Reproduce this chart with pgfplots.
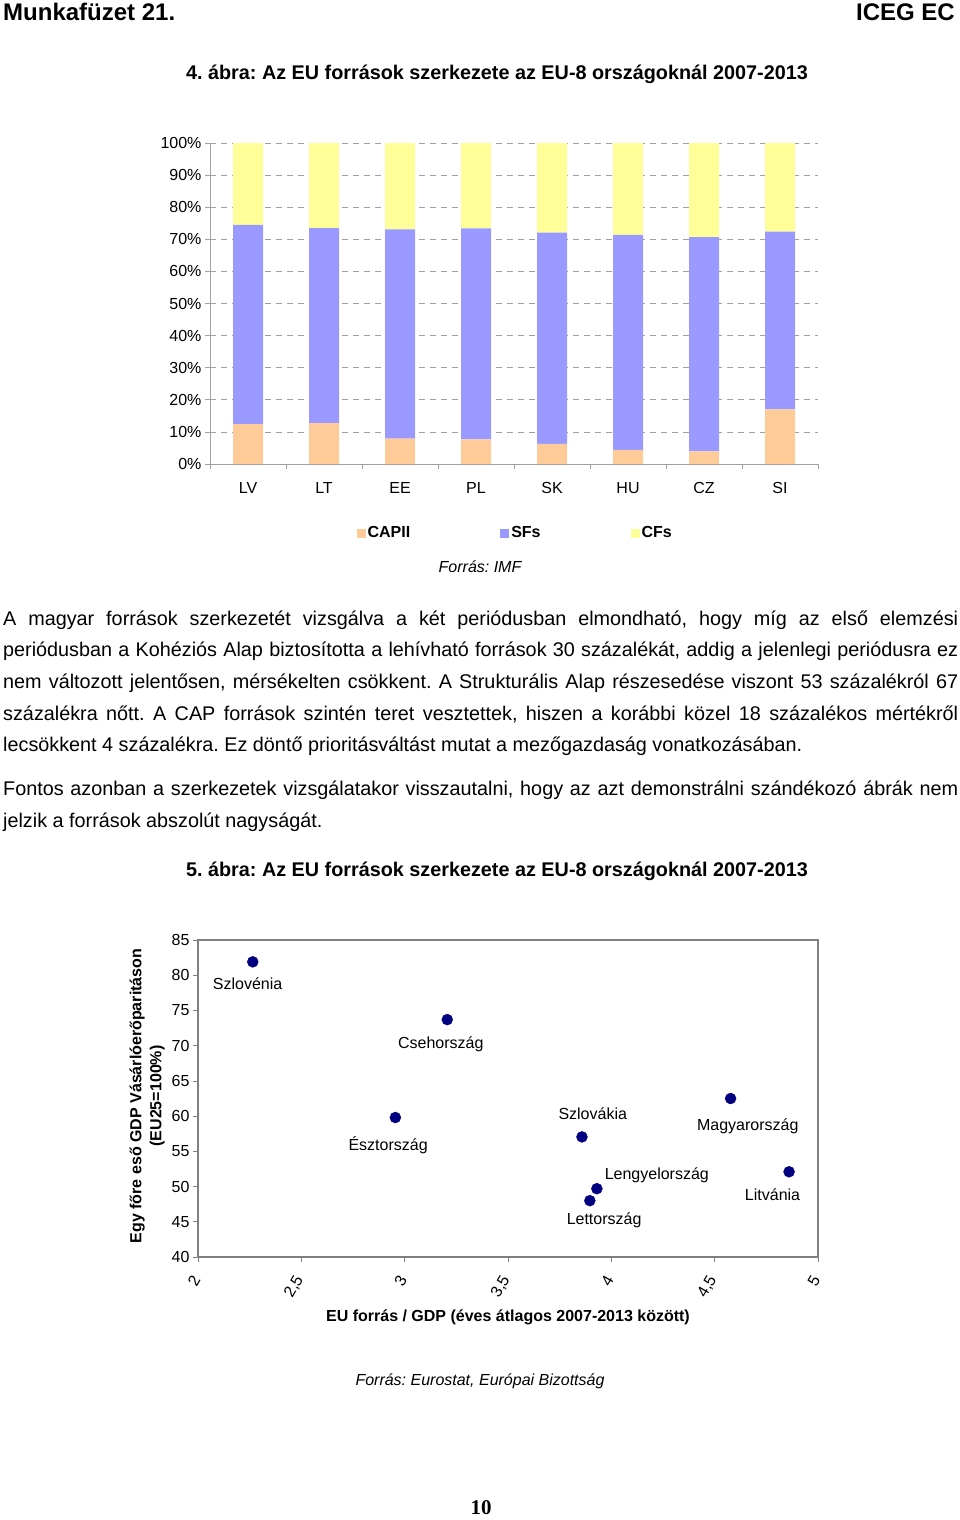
\documentclass[border=0pt]{standalone}
\usepackage{fontspec}
\setmainfont{Liberation Sans}
\newfontfamily\serifnum{Liberation Serif}
\usepackage{pgfplots}
\pgfplotsset{compat=1.18}
\frenchspacing
\definecolor{capii}{HTML}{FFCC99}
\definecolor{sfs}{HTML}{9999FF}
\definecolor{cfs}{HTML}{FFFF99}
\definecolor{navy}{HTML}{000080}
\definecolor{gridgray}{HTML}{A0A0A0}
\newcommand{\fs}[1]{\fontsize{#1}{#1}\selectfont}
\newcommand{\jline}[2]{\node[anchor=base west, inner sep=0pt, font=\fs{19.8}] at (3pt,-#1pt) {\makebox[955pt][s]{#2}};}
\newcommand{\lline}[2]{\node[anchor=base west, inner sep=0pt, font=\fs{19.8}] at (3pt,-#1pt) {#2};}
\pgfplotsset{sq/.style={legend image code/.code={\fill[##1] (0pt,-4.5pt) rectangle (9pt,4.5pt);}}}
\pgfplotstableread{
idx capii sfs cfs
0 12.4 62.1 25.5
1 12.7 60.8 26.5
2 7.9 65.2 26.9
3 7.7 65.7 26.6
4 6.3 65.8 27.9
5 4.4 67.0 28.6
6 3.9 66.8 29.3
7 17.0 55.4 27.6
}\barsdata
\pgfplotstableread{
x y
2.265 81.9
3.206 73.7
2.955 59.8
3.858 57.05
4.577 62.5
4.860 52.1
3.930 49.7
3.896 48.0
}\scatterdata
\begin{document}
\begin{tikzpicture}
\path[use as bounding box] (0pt,0pt) rectangle (960pt,-1520pt);
% header
\node[anchor=base west, inner sep=0pt, font=\fs{24}\bfseries] at (3pt,-21pt) {Munkafüzet 21.};
\node[anchor=base east, inner sep=0pt, font=\fs{24}\bfseries] at (955pt,-21pt) {ICEG EC};
\node[anchor=base, inner sep=0pt, font=\fs{19.8}\bfseries] at (497pt,-79pt) {4. ábra: Az EU források szerkezete az EU-8 országoknál 2007-2013};

\begin{axis}[
  at={(210pt,-464pt)}, anchor=south west, scale only axis,
  width=608pt, height=321pt,
  ybar stacked, bar width=30pt,
  xmin=-0.5, xmax=7.5, ymin=0, ymax=100,
  xtick={0,...,7}, xticklabels={LV,LT,EE,PL,SK,HU,CZ,SI},
  minor xtick={-0.5,0.5,...,7.5},
  major x tick style={draw=none},
  ytick={0,10,...,100},
  yticklabel={\pgfmathprintnumber{\tick}\%},
  /pgf/number format/assume math mode=true,
  axis x line*=bottom, axis y line*=left,
  axis line style={gridgray, line width=0.8pt},
  tick style={gridgray, line width=0.8pt},
  tick align=outside, major tick length=5pt, minor tick length=5pt,
  ymajorgrids, major grid style={dashed, gridgray, line width=0.8pt, dash pattern=on 6pt off 5pt},
  ticklabel style={font=\fs{16}},
  xticklabel style={yshift=-10pt},
  legend columns=3,
  legend style={at={(0.502,-0.215)}, anchor=center, draw=none, fill=none, font=\fs{16}\bfseries,
    /tikz/every even column/.append style={column sep=88pt},
    nodes={inner xsep=2pt}},
]
\addplot[fill=capii, draw=none, sq] table[x=idx, y=capii] {\barsdata};
\addplot[fill=sfs, draw=none, sq] table[x=idx, y=sfs] {\barsdata};
\addplot[fill=cfs, draw=none, sq] table[x=idx, y=cfs] {\barsdata};
\legend{CAPII,SFs,CFs}
\end{axis}

\node[font=\fs{16}\itshape] at (480pt,-567pt) {Forrás: IMF};

% paragraph 1
\jline{625}{A magyar források szerkezetét vizsgálva a két periódusban elmondható, hogy míg az első elemzési}
\jline{656}{periódusban a Kohéziós Alap biztosította a lehívható források 30 százalékát, addig a jelenlegi periódusra ez}
\jline{688}{nem változott jelentősen, mérsékelten csökkent. A Strukturális Alap részesedése viszont 53 százalékról 67}
\jline{720}{százalékra nőtt. A CAP források szintén teret vesztettek, hiszen a korábbi közel 18 százalékos mértékről}
\lline{751}{lecsökkent 4 százalékra. Ez döntő prioritásváltást mutat a mezőgazdaság vonatkozásában.}
% paragraph 2
\jline{795}{Fontos azonban a szerkezetek vizsgálatakor visszautalni, hogy az azt demonstrálni szándékozó ábrák nem}
\lline{827}{jelzik a források abszolút nagyságát.}

\node[anchor=base, inner sep=0pt, font=\fs{19.8}\bfseries] at (497pt,-876pt) {5. ábra: Az EU források szerkezete az EU-8 országoknál 2007-2013};

\begin{axis}[
  at={(198pt,-1257pt)}, anchor=south west, scale only axis,
  width=620pt, height=317pt,
  xmin=2, xmax=5, ymin=40, ymax=85,
  xtick={2,2.5,3,3.5,4,4.5,5}, ytick={40,45,50,55,60,65,70,75,80,85},
  /pgf/number format/use comma,
  /pgf/number format/assume math mode=true,
  xticklabel style={yshift=-12pt, rotate=60, anchor=east, font=\fs{16}},
  yticklabel style={font=\fs{16}},
  tick align=outside, tick pos=left, major tick length=5pt,
  axis line style={gray, line width=1.6pt},
  tick style={gray, line width=0.8pt},
  xlabel={EU forrás / GDP (éves átlagos 2007-2013 között)},
  ylabel={Egy főre eső GDP Vásárlóerőparitáson\\(EU25=100\%)},
  xlabel style={font=\fs{16}\bfseries, at={(axis description cs:0.5,-0.189)}, anchor=center},
  ylabel style={font=\fontsize{16}{20}\selectfont\bfseries, align=center, at={(axis description cs:-0.082,0.508)}, anchor=center},
  clip=false,
]
\addplot[only marks, mark=*, mark size=5.5pt, color=navy, mark options={fill=navy, draw=navy}] table[x=x, y=y] {\scatterdata};
\node[font=\fs{16}] at (axis cs:2.24,78.8) {Szlovénia};
\node[font=\fs{16}] at (axis cs:3.175,70.2) {Csehország};
\node[font=\fs{16}] at (axis cs:2.92,55.8) {Észtország};
\node[font=\fs{16}] at (axis cs:3.91,60.35) {Szlovákia};
\node[font=\fs{16}] at (axis cs:4.66,58.6) {Magyarország};
\node[font=\fs{16}] at (axis cs:4.22,51.55) {Lengyelország};
\node[font=\fs{16}] at (axis cs:4.78,48.9) {Litvánia};
\node[font=\fs{16}] at (axis cs:3.965,45.2) {Lettország};
\end{axis}

\node[font=\fs{16}\itshape] at (480pt,-1381pt) {Forrás: Eurostat, Európai Bizottság};
\node[font=\fs{21}\serifnum\bfseries] at (481pt,-1508pt) {10};
\end{tikzpicture}
\end{document}
